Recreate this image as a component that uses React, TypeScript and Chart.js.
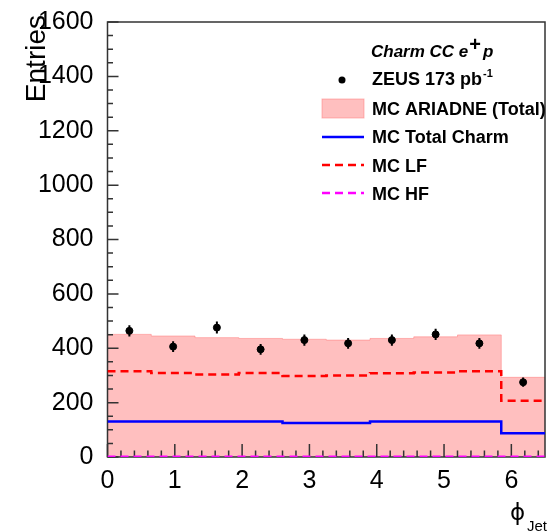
import React, { useEffect, useRef } from "react";
import { Chart, registerables } from "chart.js";

Chart.register(...registerables);

// ---- data ----
const binEdges = [0, 0.65, 1.3, 1.95, 2.6, 3.25, 3.9, 4.55, 5.2, 5.85, 6.5];
const binCenters = [0.325, 0.975, 1.625, 2.275, 2.925, 3.575, 4.225, 4.875, 5.525, 6.175];
const zeusValues = [464, 406, 476, 396, 430, 418, 430, 451, 418, 275];
const zeusErrors = [21, 20, 22, 20, 21, 20, 21, 21, 20, 17];
const mcTotal = [451, 445, 439, 436, 433, 430, 436, 442, 449, 293];
const mcCharm = [131, 131, 131, 131, 125, 125, 131, 131, 131, 87];
const mcLF = [315, 309, 303, 309, 298, 300, 308, 311, 315, 207];
const mcHF = [1, 1, 1, 1, 1, 1, 1, 1, 1, 1];
const xTicks = [0, 1, 2, 3, 4, 5, 6];
const yTicks = [0, 200, 400, 600, 800, 1000, 1200, 1400, 1600];
const legendTitle = ["Charm CC e", "+", "p"];
const legendLabels = [
  "ZEUS 173 pb",
  "MC ARIADNE (Total)",
  "MC Total Charm",
  "MC LF",
  "MC HF",
];
const lumiSup = "-1";
const yTitle = "Entries";
const xTitle = ["\u03d5", "Jet"];

const FONT = '"Liberation Sans", Arial, Helvetica, sans-serif';

function stepData(vals: number[]) {
  return binEdges.map((e, i) => ({ x: e, y: vals[Math.min(i, vals.length - 1)] }));
}

const PINK_FILL = "rgba(255,0,0,0.25)";

const framePlugin = {
  id: "rootFrame",
  afterDatasetDraw(chart: any, args: any) {
    if (args.index !== 4) return;
    const { ctx, chartArea } = chart;
    const { left, right, top, bottom } = chartArea;
    const xs = chart.scales.x;
    const ys = chart.scales.y;
    ctx.save();
    ctx.strokeStyle = "#333";
    ctx.lineWidth = 1.5;
    ctx.strokeRect(left, top, right - left, bottom - top);
    ctx.beginPath();
    for (let v = 0; v <= 1600 + 1e-6; v += 50) {
      const p = ys.getPixelForValue(v);
      const len = v % 200 === 0 ? 11 : 5.5;
      ctx.moveTo(left, p);
      ctx.lineTo(left + len, p);
    }
    for (let i = 0; i <= 32; i++) {
      const v = i * 0.2;
      const p = xs.getPixelForValue(v);
      const len = i % 5 === 0 ? 13 : 6.5;
      ctx.moveTo(p, bottom);
      ctx.lineTo(p, bottom - len);
    }
    ctx.stroke();
    ctx.restore();
  },
};

const overlayPlugin = {
  id: "rootOverlay",
  afterDatasetsDraw(chart: any) {
    const { ctx } = chart;
    const xs = chart.scales.x;
    const ys = chart.scales.y;
    ctx.save();
    ctx.strokeStyle = "#000";
    ctx.lineWidth = 2;
    ctx.beginPath();
    zeusValues.forEach((v, i) => {
      const px = xs.getPixelForValue(binCenters[i]);
      ctx.moveTo(px, ys.getPixelForValue(v - zeusErrors[i]));
      ctx.lineTo(px, ys.getPixelForValue(v + zeusErrors[i]));
    });
    ctx.stroke();

    ctx.fillStyle = "#000";
    ctx.save();
    ctx.translate(45, 15);
    ctx.rotate(-Math.PI / 2);
    ctx.font = `28px ${FONT}`;
    ctx.textAlign = "right";
    ctx.textBaseline = "alphabetic";
    ctx.fillText(yTitle, 0, 0);
    ctx.restore();

    ctx.textAlign = "left";
    ctx.textBaseline = "alphabetic";
    ctx.font = `23px "DejaVu Sans", ${FONT}`;
    ctx.fillText(xTitle[0], 510, 520);
    ctx.font = `15px ${FONT}`;
    ctx.fillText(xTitle[1], 527, 531);

    let x = 371;
    ctx.font = `italic bold 17px ${FONT}`;
    ctx.fillText(legendTitle[0], x, 57);
    x += ctx.measureText(legendTitle[0]).width + 1;
    ctx.font = `bold 20px ${FONT}`;
    ctx.fillText(legendTitle[1], x, 51);
    x += ctx.measureText(legendTitle[1]).width + 2;
    ctx.font = `italic bold 17px ${FONT}`;
    ctx.fillText(legendTitle[2], x, 57);

    const baselines = [85, 114.5, 143, 171.5, 200];
    const tx = 372;
    ctx.font = `bold 18px ${FONT}`;
    legendLabels.forEach((t, i) => ctx.fillText(t, tx, baselines[i]));
    const w0 = ctx.measureText(legendLabels[0]).width;
    ctx.font = `bold 11px ${FONT}`;
    ctx.fillText(lumiSup, tx + w0 + 1, 77);

    ctx.beginPath();
    ctx.arc(342, 80, 3.5, 0, Math.PI * 2);
    ctx.fill();
    ctx.fillStyle = PINK_FILL;
    ctx.fillRect(322, 99, 42, 19);
    ctx.strokeStyle = "rgba(255,120,120,0.5)";
    ctx.lineWidth = 1;
    ctx.strokeRect(322, 99, 42, 19);

    ctx.lineWidth = 2.5;
    ctx.strokeStyle = "#0000ff";
    ctx.beginPath();
    ctx.moveTo(322, 137);
    ctx.lineTo(364, 137);
    ctx.stroke();

    ctx.setLineDash([8, 5]);
    ctx.strokeStyle = "#ff0000";
    ctx.beginPath();
    ctx.moveTo(322, 165);
    ctx.lineTo(364, 165);
    ctx.stroke();

    ctx.strokeStyle = "#ff00ff";
    ctx.beginPath();
    ctx.moveTo(322, 193);
    ctx.lineTo(364, 193);
    ctx.stroke();
    ctx.restore();
  },
};

export default function App() {
  const canvasRef = useRef<HTMLCanvasElement | null>(null);

  useEffect(() => {
    const canvas = canvasRef.current;
    if (!canvas) return;
    const chart = new Chart(canvas, {
      type: "line",
      data: {
        datasets: [
          {
            label: legendLabels[0],
            type: "scatter",
            data: binCenters.map((x, i) => ({ x, y: zeusValues[i] })),
            backgroundColor: "#000",
            borderColor: "#000",
            pointRadius: 3.5,
            showLine: false,
          } as any,
          {
            label: legendLabels[4],
            data: stepData(mcHF),
            stepped: "before",
            borderColor: "#ff00ff",
            borderWidth: 2.5,
            borderDash: [8, 5],
            pointRadius: 0,
            fill: false,
          },
          {
            label: legendLabels[3],
            data: stepData(mcLF),
            stepped: "before",
            borderColor: "#ff0000",
            borderWidth: 2.5,
            borderDash: [8, 5],
            pointRadius: 0,
            fill: false,
          },
          {
            label: legendLabels[2],
            data: stepData(mcCharm),
            stepped: "before",
            borderColor: "#0000ff",
            borderWidth: 2.5,
            pointRadius: 0,
            fill: false,
          },
          {
            label: legendLabels[1],
            data: stepData(mcTotal),
            stepped: "before",
            borderColor: "rgba(255,120,120,0.5)",
            backgroundColor: PINK_FILL,
            borderWidth: 1,
            pointRadius: 0,
            fill: "origin",
          },
        ],
      },
      options: {
        animation: false,
        responsive: false,
        devicePixelRatio: 1,
        layout: { padding: { top: 22, right: 2, left: 0, bottom: 0 } },
        plugins: {
          legend: { display: false },
          tooltip: { enabled: false },
        },
        scales: {
          x: {
            type: "linear",
            min: 0,
            max: 6.5,
            grid: { display: false },
            border: { display: false },
            ticks: {
              font: { family: FONT, size: 25 },
              color: "#000",
              padding: 1,
              maxRotation: 0,
              autoSkip: false,
              callback: (v: any) => String(v),
            },
            afterBuildTicks: (s: any) => {
              s.ticks = xTicks.map((v) => ({ value: v }));
            },
            afterFit: (s: any) => {
              s.height = 74;
            },
          },
          y: {
            type: "linear",
            min: 0,
            max: 1600,
            grid: { display: false },
            border: { display: false },
            ticks: {
              font: { family: FONT, size: 25 },
              color: "#000",
              padding: 6,
              autoSkip: false,
              callback: (v: any) => String(v),
            },
            afterBuildTicks: (s: any) => {
              s.ticks = yTicks.map((v) => ({ value: v }));
            },
            afterFit: (s: any) => {
              s.width = 107.5;
            },
          },
        },
      },
      plugins: [framePlugin, overlayPlugin],
    });
    return () => chart.destroy();
  }, []);

  return (
    <div style={{ position: "absolute", left: 0, top: 0, width: 550, height: 531, background: "#fff" }}>
      <canvas ref={canvasRef} width={550} height={531} style={{ display: "block" }} />
    </div>
  );
}
